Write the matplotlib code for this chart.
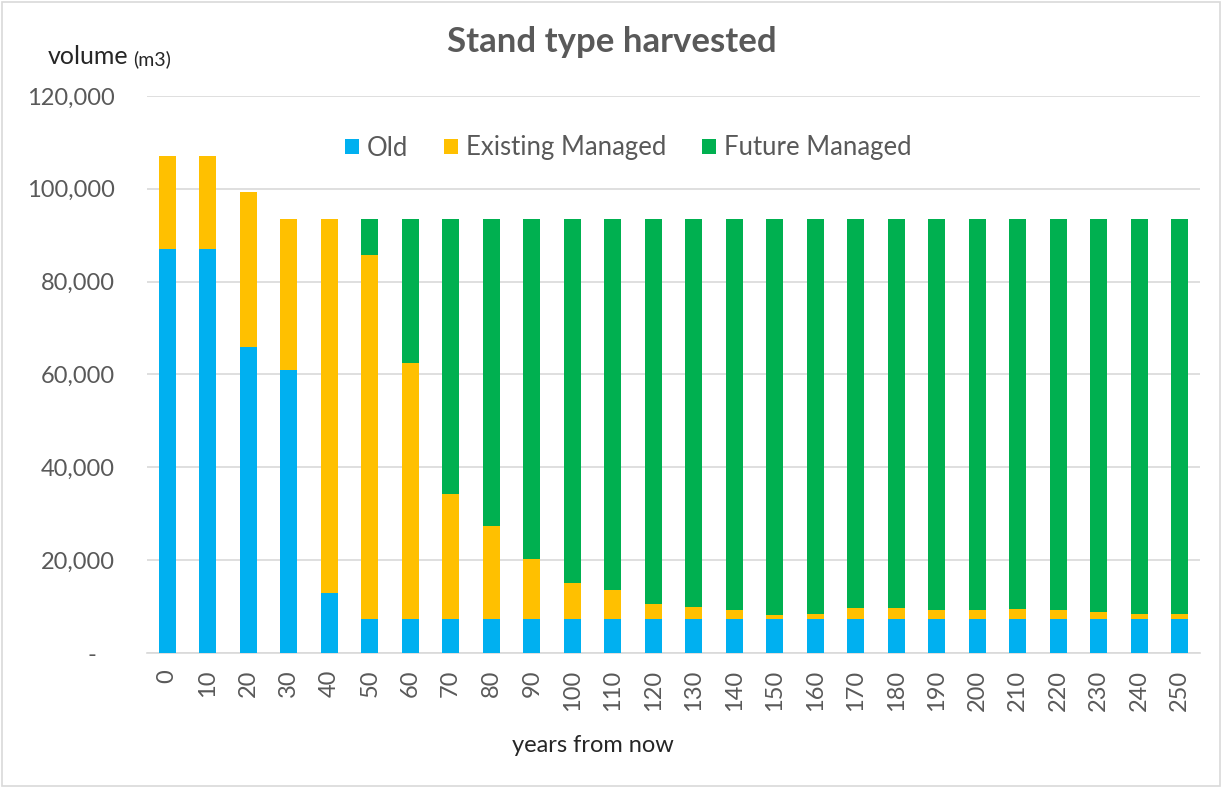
import numpy as np
import matplotlib
matplotlib.use('Agg')
import matplotlib.pyplot as plt
from matplotlib.patches import Rectangle
from matplotlib.ticker import FuncFormatter

years = [0, 10, 20, 30, 40, 50, 60, 70, 80, 90, 100, 110, 120, 130, 140, 150, 160, 170, 180, 190, 200, 210, 220,
         230, 240, 250]
old = [87000, 87000, 66000, 61000, 13000, 7300, 7300, 7300, 7300, 7300, 7300, 7300, 7300, 7300, 7300, 7300, 7300,
       7300, 7300, 7300, 7300, 7300, 7300, 7300, 7300, 7300]
existing = [20000, 20000, 33400, 32500, 80500, 78400, 55100, 26900, 20000, 12900, 7800, 6300, 3300, 2700, 1900, 900,
            1200, 2400, 2400, 1900, 1900, 2100, 1900, 1500, 1200, 1200]
future = [0, 0, 0, 0, 0, 7800, 31100, 59300, 66200, 73300, 78400, 79900, 82900, 83500, 84300, 85300, 85000, 83800,
          83800, 84300, 84300, 84100, 84300, 84700, 85000, 85000]
series_names = ['Old', 'Existing Managed', 'Future Managed']
yticks = [0, 20000, 40000, 60000, 80000, 100000, 120000]

colors = ['#00b0f0', '#ffc000', '#00b050']
textcol = '#595959'


def yfmt(v, pos):
    # excel accounting style: zero shows as a dash
    if v == 0:
        return '-   '
    return '{:,.0f}'.format(v)


def main():
    plt.rcParams['font.family'] = ['Lato', 'DejaVu Sans']

    fig = plt.figure(figsize=(12.22, 7.88), dpi=100)
    ax = fig.add_axes([147 / 1222, 1 - 653 / 788, 1053 / 1222, 557 / 788])

    x = np.arange(len(years))
    old_a = np.array(old)
    ex_a = np.array(existing)
    fu_a = np.array(future)
    w = 0.42
    ax.bar(x, old_a, w, color=colors[0], label=series_names[0], zorder=3)
    ax.bar(x, ex_a, w, bottom=old_a, color=colors[1], label=series_names[1], zorder=3)
    ax.bar(x, fu_a, w, bottom=old_a + ex_a, color=colors[2], label=series_names[2], zorder=3)

    ax.set_xlim(-0.5, len(years) - 0.5)
    ax.set_ylim(0, 120000)
    ax.set_yticks(yticks)
    ax.yaxis.set_major_formatter(FuncFormatter(yfmt))
    ax.set_xticks(x)
    ax.set_xticklabels([str(y) for y in years], rotation=90)

    ax.grid(axis='y', color='#d9d9d9', linewidth=1.2, zorder=0)
    for s in ['top', 'right', 'left']:
        ax.spines[s].set_visible(False)
    ax.spines['bottom'].set_color('#d9d9d9')
    ax.spines['bottom'].set_linewidth(1.2)
    ax.tick_params(axis='both', length=0, colors=textcol, labelsize=17)
    ax.tick_params(axis='y', pad=23)
    ax.tick_params(axis='x', pad=12)

    ax.legend(loc='center', bbox_to_anchor=(628 / 1222, 1 - 148 / 788), bbox_transform=fig.transFigure, ncol=3,
              frameon=False, fontsize=18.5, handlelength=0.55, handleheight=0.55, handletextpad=0.3,
              columnspacing=1.4, labelcolor=textcol)

    fig.text(612 / 1222, 1 - 42 / 788, 'Stand type harvested', ha='center', va='center', fontsize=25,
             fontweight='bold', color=textcol)
    fig.text(48 / 1222, 1 - 57 / 788, 'volume', ha='left', va='center', fontsize=18, color='#262626')
    fig.text(133 / 1222, 1 - 59 / 788, '(m3)', ha='left', va='center', fontsize=14, color='#262626')
    fig.text(593 / 1222, 1 - 746 / 788, 'years from now', ha='center', va='center', fontsize=17, color='#262626')

    # chart border
    fig.add_artist(Rectangle((0.002, 0.002), 0.996, 0.996, transform=fig.transFigure, fill=False,
                             edgecolor='#d9d9d9', linewidth=1.2))

    fig.savefig('out.png', dpi=100)


if __name__ == "__main__":
    main()
